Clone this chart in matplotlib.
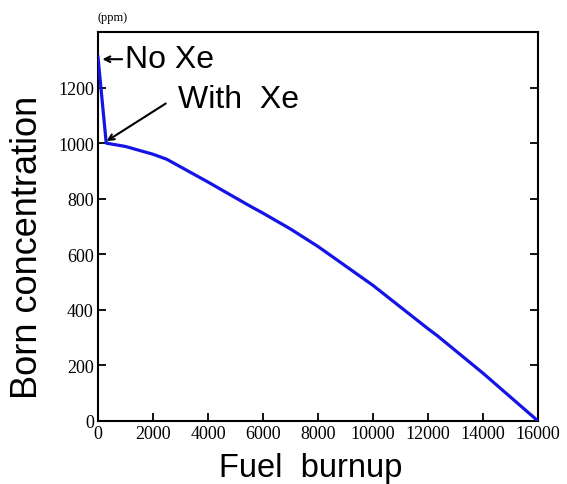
import numpy as np
import matplotlib.pyplot as plt

# Boron concentration vs fuel burnup
Burnup = [0, 300, 1000, 2000, 2500, 4000, 5500, 6000, 7000, 8000, 10000, 12000, 12350, 14000, 16000]
Boron = [1310, 1000, 988, 960, 942, 860, 775, 748, 691, 628, 488, 332, 306, 172, 0]

XTicks = [0, 2000, 4000, 6000, 8000, 10000, 12000, 14000, 16000]
YTicks = [0, 200, 400, 600, 800, 1000, 1200]

plt.close('all')
Fig = plt.figure(figsize=(5.67, 4.85), dpi=100)
Ax = Fig.add_axes([0.1728, 0.1299, 0.7761, 0.8021])

Ax.plot(Burnup, Boron, color='#1414e6', linewidth=2.3, zorder=3)

Ax.set_xlim(0, 16000)
Ax.set_ylim(0, 1400)
Ax.set_xticks(XTicks)
Ax.set_yticks(YTicks)
Ax.tick_params(direction='in', length=6, width=1.3, right=True, top=False,
               labelsize=13, pad=3)
for Lab in Ax.get_xticklabels() + Ax.get_yticklabels():
    Lab.set_family('Liberation Serif')
for Sp in Ax.spines.values():
    Sp.set_linewidth(1.5)

Ax.set_xlabel('Fuel  burnup', fontsize=23.5, family='Liberation Sans')
Ax.xaxis.set_label_coords(0.483, -0.08)
Ax.set_ylabel('Born concentration', fontsize=26, family='Liberation Sans')
Ax.yaxis.set_label_coords(-0.12, 0.45)

Fig.text(0.172, 0.963, '(ppm)', fontsize=9, family='Liberation Serif', ha='left', va='center')

# annotations
Ax.annotate('', xy=(60, 1302), xytext=(980, 1302),
            arrowprops=dict(arrowstyle='->', color='black', lw=1.5))
Ax.text(990, 1302, 'No Xe', fontsize=23, family='Liberation Sans', ha='left', va='center')

Ax.annotate('', xy=(230, 1002), xytext=(2550, 1148),
            arrowprops=dict(arrowstyle='->', color='black', lw=1.5))
Ax.text(2900, 1158, 'With  Xe', fontsize=23, family='Liberation Sans', ha='left', va='center')

plt.savefig('out.png', dpi=100)
